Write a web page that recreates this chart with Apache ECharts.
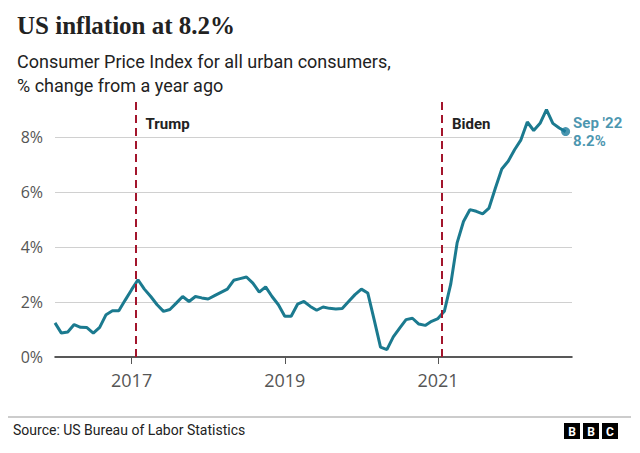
<!DOCTYPE html>
<html>
<head>
<meta charset="utf-8">
<script src="https://cdn.jsdelivr.net/npm/echarts@6/dist/echarts.min.js"></script>
<style>
html,body{margin:0;padding:0;background:#fff;}
#chart{width:640px;height:453px;}
</style>
</head>
<body>
<div id="chart"></div>
<script>
// ---- data ----
const startYear = 2016; // first month = Jan 2016, monthly data
const cpi = [
  1.24,0.87,0.91,1.18,1.08,1.07,0.87,1.08,1.54,1.68,1.68,2.07,
  2.45,2.81,2.47,2.20,1.90,1.66,1.73,1.96,2.20,2.02,2.20,2.15,
  2.11,2.23,2.35,2.47,2.79,2.85,2.91,2.69,2.36,2.55,2.20,1.90,
  1.48,1.48,1.92,2.02,1.84,1.70,1.82,1.77,1.75,1.76,2.02,2.27,
  2.47,2.33,1.36,0.36,0.27,0.73,1.05,1.36,1.41,1.20,1.15,1.30,
  1.40,1.66,2.65,4.15,4.93,5.36,5.30,5.21,5.42,6.15,6.84,7.12,
  7.54,7.90,8.55,8.24,8.50,9.00,8.50,8.33,8.20
];
const xTickYears = [2017, 2019, 2021];
const yTicks = [0, 2, 4, 6, 8];
const events = ['Trump', 'Biden'];
const eventDates = [2017 + 19/365, 2021 + 19/365]; // inaugurations, 20 Jan
const lastLabel = "Sep '22";

// ---- build ----
const lineData = cpi.map((v, i) => [startYear + i / 12, v]);
const last = lineData[lineData.length - 1];

const chart = echarts.init(document.getElementById('chart'), null, {renderer: 'svg'});
const sans = 'Roboto, "Noto Sans", sans-serif';

chart.setOption({
  animation: false,
  backgroundColor: '#ffffff',
  title: [
    {
      text: 'US inflation at 8.2%',
      left: 12, top: 8,
      textStyle: {fontFamily: '"Liberation Serif", serif', fontWeight: 'bold', fontSize: 25, color: '#222222'}
    },
    {
      text: 'Consumer Price Index for all urban consumers,\n% change from a year ago',
      left: 12, top: 44,
      textStyle: {fontFamily: sans, fontWeight: 'normal', fontSize: 18, lineHeight: 24, color: '#222222'}
    }
  ],
  grid: {left: 55, right: 68, top: 100, bottom: 96, containLabel: false},
  xAxis: {
    type: 'value',
    min: startYear,
    max: startYear + 81 / 12,
    interval: 1,
    axisLine: {show: true, onZero: false, lineStyle: {color: '#222222', width: 1.5}},
    axisTick: {show: true, customValues: xTickYears, length: 7, lineStyle: {color: '#555555'}},
    axisLabel: {customValues: xTickYears, formatter: v => String(Math.round(v)), margin: 14,
      fontFamily: '"Open Sans", sans-serif', fontSize: 18, color: '#555555'},
    splitLine: {show: false}
  },
  yAxis: {
    type: 'value',
    min: 0,
    max: 9.35,
    interval: 2,
    axisLine: {show: false},
    axisTick: {show: false},
    axisLabel: {formatter: v => v + '%', showMaxLabel: false, margin: 12,
      fontFamily: '"Open Sans", sans-serif', fontSize: 16, color: '#555555'},
    splitLine: {show: true, showMaxLine: false, showMinLine: false, lineStyle: {color: '#d0d0d0', width: 1}}
  },
  series: [
    {
      type: 'line',
      data: lineData,
      showSymbol: false,
      symbol: 'none',
      clip: false,
      lineStyle: {color: '#1b7a8f', width: 3},
      z: 3,
      markLine: {
        silent: true,
        symbol: 'none',
        label: {show: false},
        lineStyle: {color: '#a3152c', width: 2, type: [8, 5]},
        data: eventDates.map(d => ({xAxis: d}))
      },
      markPoint: {
        silent: true,
        symbol: 'circle',
        symbolSize: 0,
        label: {show: true, position: 'right', distance: 10, formatter: '{b}',
          fontFamily: sans, fontWeight: 'bold', fontSize: 15, color: '#222222'},
        data: events.map((name, i) => ({name: name, coord: [eventDates[i], 8.48]}))
      }
    },
    {
      type: 'scatter',
      data: [last],
      symbol: 'circle',
      symbolSize: 9,
      itemStyle: {color: '#1a7b9b'},
      z: 4,
      label: {
        show: true, position: 'right', distance: 3,
        formatter: lastLabel + '\n' + last[1].toFixed(1) + '%',
        fontFamily: sans, fontWeight: 'bold', fontSize: 15, lineHeight: 18, color: '#1a7b9b'
      }
    }
  ],
  graphic: [
    {type: 'line', shape: {x1: 8, y1: 417, x2: 631, y2: 417}, style: {stroke: '#bbbbbb', lineWidth: 1.5}},
    {type: 'text', left: 13, top: 423, style: {text: 'Source: US Bureau of Labor Statistics',
      font: '14px Roboto, sans-serif', fill: '#222222'}},
    {type: 'group', left: 564, top: 423, children: [
      {type: 'rect', shape: {x: 0, y: 0, width: 16, height: 16}, style: {fill: '#000'}},
      {type: 'rect', shape: {x: 19, y: 0, width: 16, height: 16}, style: {fill: '#000'}},
      {type: 'rect', shape: {x: 38, y: 0, width: 16, height: 16}, style: {fill: '#000'}},
      {type: 'text', x: 8, y: 8.5, style: {text: 'B', font: 'bold 12px Roboto, sans-serif', fill: '#fff', align: 'center', verticalAlign: 'middle'}},
      {type: 'text', x: 27, y: 8.5, style: {text: 'B', font: 'bold 12px Roboto, sans-serif', fill: '#fff', align: 'center', verticalAlign: 'middle'}},
      {type: 'text', x: 46, y: 8.5, style: {text: 'C', font: 'bold 12px Roboto, sans-serif', fill: '#fff', align: 'center', verticalAlign: 'middle'}}
    ]}
  ]
});
</script>
</body>
</html>
